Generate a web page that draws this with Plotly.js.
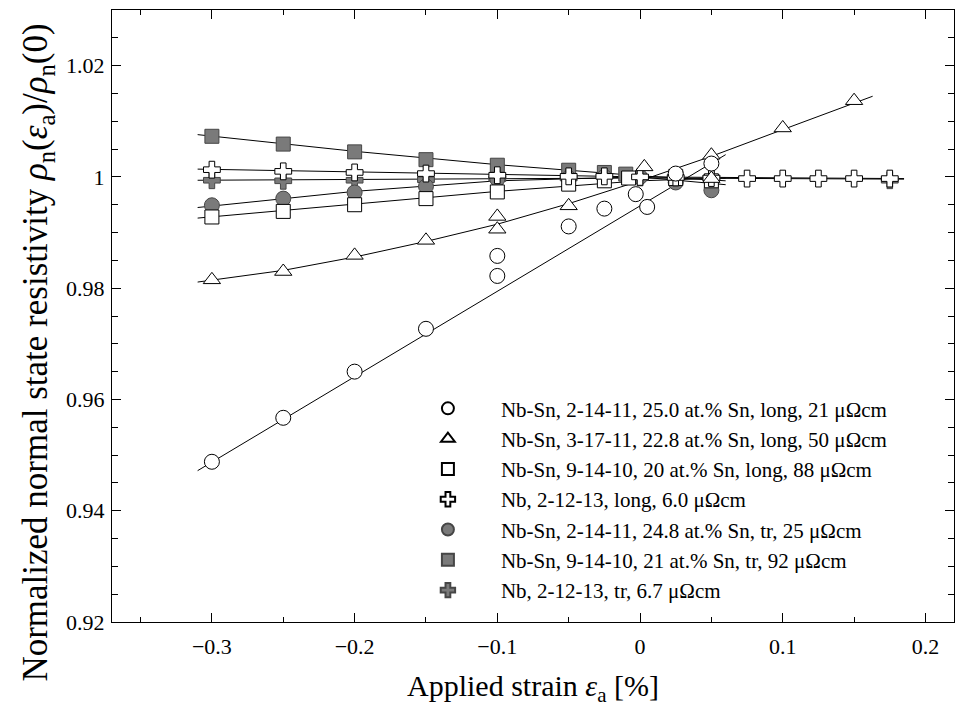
<!DOCTYPE html>
<html>
<head>
<meta charset="utf-8">
<script src="https://cdn.plot.ly/plotly-3.0.1.min.js"></script>
<style>body{margin:0;padding:0;background:#fff;} #chart{width:961px;height:714px;}</style>
</head>
<body>
<div id="chart"></div>
<script>
// ---- Data ----
const legendNames = [
  "Nb-Sn, 2-14-11, 25.0 at.% Sn, long, 21 μΩcm",
  "Nb-Sn, 3-17-11, 22.8 at.% Sn, long, 50 μΩcm",
  "Nb-Sn, 9-14-10, 20 at.% Sn, long, 88 μΩcm",
  "Nb, 2-12-13, long, 6.0 μΩcm",
  "Nb-Sn, 2-14-11, 24.8 at.% Sn, tr, 25 μΩcm",
  "Nb-Sn, 9-14-10, 21 at.% Sn, tr, 92 μΩcm",
  "Nb, 2-12-13, tr, 6.7 μΩcm"
];
const xTitle = "Applied strain <i>ε</i><sub>a</sub> [%]";
const yTitle = "Normalized normal state resistivity <i>ρ</i><sub>n</sub>(<i>ε</i><sub>a</sub>)/<i>ρ</i><sub>n</sub>(0)";

// open circles: Nb-Sn 2-14-11 long
const circLongX = [-0.3, -0.25, -0.2, -0.15, -0.1, -0.1, -0.05, -0.025, -0.003, 0.005, 0.025, 0.05];
const circLongY = [0.9488, 0.9567, 0.9650, 0.9727, 0.9858, 0.9822, 0.9911, 0.9943, 0.9969, 0.9946, 1.0006, 1.0024];
// open triangles: Nb-Sn 3-17-11 long
const triLongX = [-0.3, -0.25, -0.2, -0.15, -0.1, -0.1, -0.05, 0.003, 0.05, 0.05, 0.1, 0.15];
const triLongY = [0.9815, 0.9830, 0.9859, 0.9886, 0.9929, 0.9906, 0.9948, 1.0018, 1.0039, 0.9997, 1.0088, 1.0137];
// open squares: Nb-Sn 9-14-10 long
const sqLongX = [-0.3, -0.25, -0.2, -0.15, -0.1, -0.05, -0.025, -0.008, 0.025, 0.05];
const sqLongY = [0.9928, 0.9938, 0.9950, 0.9961, 0.9973, 0.9987, 0.9993, 0.9998, 0.9997, 0.9993];
// open crosses: Nb 2-12-13 long
const crLongX = [-0.3, -0.25, -0.2, -0.15, -0.1, -0.05, -0.025, 0, 0.025, 0.05, 0.075, 0.1, 0.125, 0.15, 0.175];
const crLongY = [1.0013, 1.0010, 1.0008, 1.0006, 1.0003, 1.0001, 1.0001, 1.0000, 0.9999, 0.9998, 0.9997, 0.9997, 0.9997, 0.9997, 0.9997];
// gray circles: Nb-Sn 2-14-11 tr
const circTrX = [-0.3, -0.25, -0.2, -0.15, -0.1, -0.05, -0.025, 0, 0.025, 0.05];
const circTrY = [0.9949, 0.9961, 0.9972, 0.9983, 0.9996, 0.9998, 1.0000, 1.0000, 0.9990, 0.9976];
// gray squares: Nb-Sn 9-14-10 tr
const sqTrX = [-0.3, -0.25, -0.2, -0.15, -0.1, -0.05, -0.025, -0.01, 0.025];
const sqTrY = [1.0073, 1.0059, 1.0045, 1.0031, 1.0021, 1.0012, 1.0008, 1.0005, 1.0001];
// gray crosses: Nb 2-12-13 tr
const crTrX = [-0.3, -0.25, -0.2, -0.15, -0.1, -0.05, 0, 0.05, 0.175];
const crTrY = [0.9994, 0.9993, 0.9994, 0.9995, 0.9997, 0.9998, 0.9999, 0.9998, 0.9994];

// fitted curves
const fitCircX = [-0.31, 0.06];
const fitCircY = [0.9472, 1.0040];
const fitTriX = [-0.31, -0.25, -0.2, -0.15, -0.1, -0.05, 0, 0.05, 0.1, 0.163];
const fitTriY = [0.9811, 0.9832, 0.9856, 0.9884, 0.9915, 0.9952, 0.9993, 1.0037, 1.0085, 1.0145];
const fitSqLongX = [-0.31, -0.2, -0.1, 0, 0.06];
const fitSqLongY = [0.9926, 0.9951, 0.9974, 0.9993, 0.9998];
const fitCrLongX = [-0.31, -0.2, -0.1, 0, 0.185];
const fitCrLongY = [1.0014, 1.0009, 1.0004, 1.0000, 0.9997];
const fitCircTrX = [-0.31, -0.2, -0.1, 0, 0.06];
const fitCircTrY = [0.9945, 0.9974, 0.9993, 1.0000, 0.9986];
const fitSqTrX = [-0.31, -0.2, -0.1, 0, 0.06];
const fitSqTrY = [1.0076, 1.0046, 1.0022, 1.0002, 0.9993];
const fitCrTrX = [-0.31, -0.1, 0, 0.185];
const fitCrTrY = [0.9994, 0.9997, 0.9998, 0.9996];

const xTickVals = [-0.3, -0.2, -0.1, 0, 0.1, 0.2];
const yTickVals = [0.92, 0.94, 0.96, 0.98, 1, 1.02];
const yTickText = ["0.92", "0.94", "0.96", "0.98", "1", "1.02"];

// ---- styles ----
const GRAY = "rgb(122,122,122)";
const GRAYLINE = "rgb(70,70,70)";
const FONT = "Liberation Serif, Times New Roman, serif";

function fit(x, y) {
  return {x: x, y: y, type: "scatter", mode: "lines", showlegend: false, hoverinfo: "skip",
          line: {color: "black", width: 1}};
}
function pts(x, y, name, symbol, filled, rank, size) {
  return {x: x, y: y, type: "scatter", mode: "markers", name: name, legendrank: rank,
          marker: {symbol: symbol, size: size || 14, color: filled ? GRAY : "white",
                   line: {color: filled ? GRAYLINE : "black", width: 1}}};
}

const data = [
  fit(fitCircX, fitCircY), fit(fitTriX, fitTriY), fit(fitSqLongX, fitSqLongY),
  fit(fitCrLongX, fitCrLongY), fit(fitCircTrX, fitCircTrY), fit(fitSqTrX, fitSqTrY),
  fit(fitCrTrX, fitCrTrY),
  pts(sqTrX, sqTrY, legendNames[5], "square", true, 6, 14),
  pts(crTrX, crTrY, legendNames[6], "cross", true, 7, 14),
  pts(circTrX, circTrY, legendNames[4], "circle", true, 5, 15),
  pts(sqLongX, sqLongY, legendNames[2], "square", false, 3, 14),
  pts(crLongX, crLongY, legendNames[3], "cross", false, 4, 14),
  pts(triLongX, triLongY, legendNames[1], "triangle-up", false, 2, 15),
  pts(circLongX, circLongY, legendNames[0], "circle", false, 1, 15)
];

const axisCommon = {
  showline: true, linecolor: "black", linewidth: 1, mirror: "allticks",
  ticks: "inside", ticklen: 9, tickwidth: 1, tickcolor: "black",
  showgrid: false, zeroline: false,
  tickfont: {family: FONT, size: 22, color: "black"}
};

const layout = {
  width: 961, height: 714,
  margin: {l: 112, r: 7, t: 10, b: 92},
  paper_bgcolor: "white", plot_bgcolor: "white",
  font: {family: FONT, color: "black"},
  xaxis: Object.assign({}, axisCommon, {
    range: [-0.37, 0.22], tickvals: xTickVals, ticklabelstandoff: 5,
    minor: {dtick: 0.05, tick0: 0, ticks: "inside", ticklen: 5, tickcolor: "black", tickwidth: 1},
    title: {text: xTitle, font: {family: FONT, size: 30, color: "black"}, standoff: 16}
  }),
  yaxis: Object.assign({}, axisCommon, {
    range: [0.92, 1.03], tickvals: yTickVals, ticktext: yTickText, ticklabelstandoff: 2,
    minor: {dtick: 0.005, tick0: 0.92, ticks: "inside", ticklen: 6, tickcolor: "black", tickwidth: 1},
    title: {text: ""}
  }),
  annotations: [{
    text: yTitle, textangle: -90, xref: "paper", yref: "paper",
    x: -0.088, y: 0.44, xanchor: "center", yanchor: "middle", showarrow: false,
    font: {family: FONT, size: 35, color: "black"}
  }],
  legend: {x: 0.336, y: 0.382, xanchor: "left", yanchor: "top", bgcolor: "rgba(0,0,0,0)",
           font: {family: FONT, size: 21, color: "black"}, itemwidth: 96, tracegroupgap: 0,
           itemsizing: "constant"},
  showlegend: true
};

Plotly.newPlot("chart", data, layout, {displayModeBar: false, staticPlot: true});
</script>
</body>
</html>
